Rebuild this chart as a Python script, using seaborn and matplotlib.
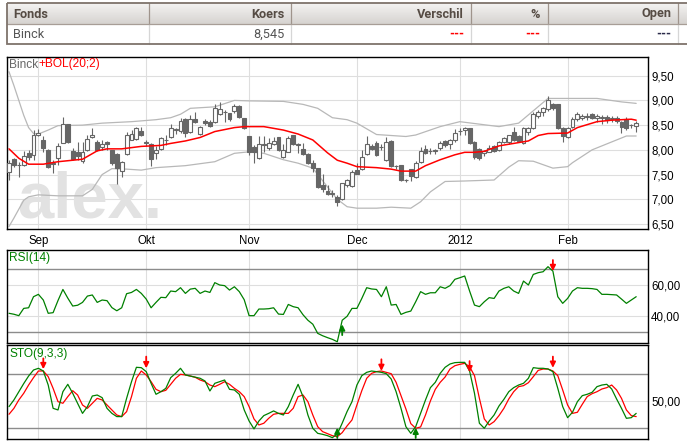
import numpy as np
import matplotlib
matplotlib.use("Agg")
import matplotlib.pyplot as plt
import seaborn as sns
from matplotlib.patches import Rectangle
from matplotlib.colors import LinearSegmentedColormap

# ---------------- data ----------------
month_labels = ['Sep', 'Okt', 'Nov', 'Dec', '2012', 'Feb']
month_pos = [6, 28, 49, 71, 92, 114]          # trading-day index of first session of month
price_ticks = [6.5, 7.0, 7.5, 8.0, 8.5, 9.0, 9.5]
price_tick_labels = ['6,50', '7,00', '7,50', '8,00', '8,50', '9,00', '9,50']

open_ = [7.55, 7.82, 7.69, 7.69, 7.93, 7.90, 8.30, 8.20, 8.00, 7.73,
         7.83, 8.13, 8.52, 7.98, 7.96, 7.78, 7.99, 8.25, 8.15, 8.05,
         8.15, 7.99, 7.91, 7.57, 7.91, 8.20, 8.22, 8.38, 8.14, 8.11,
         7.94, 8.02, 8.19, 8.25, 8.41, 8.38, 8.62, 8.37, 8.62, 8.33,
         8.58, 8.57, 8.56, 8.72, 8.76, 8.74, 8.79, 8.89, 8.65, 8.27,
         8.06, 7.83, 8.10, 8.04, 8.11, 8.26, 7.86, 7.96, 8.30, 8.10,
         8.02, 7.91, 7.73, 7.63, 7.29, 7.17, 7.12, 7.05, 7.00, 7.29,
         7.27, 7.60, 7.62, 7.91, 8.08, 8.14, 8.05, 7.79, 8.18, 7.67,
         7.69, 7.38, 7.61, 7.46, 7.76, 8.01, 7.98, 7.98, 8.03, 8.18,
         8.12, 8.19, 8.38, 8.40, 8.45, 8.16, 8.01, 7.93, 7.96, 8.08,
         7.99, 8.15, 8.15, 8.37, 8.27, 8.13, 8.37, 8.45, 8.69, 8.76,
         8.83, 8.92, 8.92, 8.44, 8.25, 8.47, 8.62, 8.64, 8.67, 8.72,
         8.64, 8.65, 8.67, 8.63, 8.64, 8.56, 8.62, 8.50, 8.49]
high = [7.79, 7.84, 7.75, 7.98, 7.99, 8.40, 8.43, 8.27, 8.01, 7.80,
        8.13, 8.67, 8.52, 8.04, 8.15, 8.16, 8.30, 8.44, 8.20, 8.20,
        8.17, 7.99, 7.93, 7.77, 8.37, 8.40, 8.47, 8.47, 8.20, 8.13,
        8.08, 8.25, 8.31, 8.52, 8.45, 8.65, 8.64, 8.71, 8.77, 8.49,
        8.62, 8.60, 8.92, 8.975, 8.81, 8.74, 8.92, 8.91, 8.65, 8.27,
        8.10, 8.27, 8.27, 8.23, 8.25, 8.26, 8.11, 8.27, 8.31, 8.13,
        8.13, 7.93, 7.80, 7.64, 7.51, 7.29, 7.19, 7.09, 7.33, 7.42,
        7.59, 7.73, 7.99, 8.27, 8.12, 8.17, 8.12, 8.25, 8.19, 7.70,
        7.70, 7.41, 7.62, 7.78, 8.06, 8.10, 8.03, 8.02, 8.17, 8.20,
        8.21, 8.42, 8.44, 8.46, 8.45, 8.18, 8.03, 7.99, 8.10, 8.10,
        8.17, 8.26, 8.31, 8.46, 8.31, 8.47, 8.47, 8.76, 8.81, 8.87,
        9.08, 8.95, 8.93, 8.46, 8.47, 8.67, 8.76, 8.72, 8.74, 8.74,
        8.72, 8.70, 8.71, 8.68, 8.68, 8.58, 8.66, 8.52, 8.58]
low = [7.39, 7.66, 7.46, 7.68, 7.80, 7.80, 8.29, 7.96, 7.63, 7.53,
       7.69, 8.13, 8.13, 7.80, 7.80, 7.74, 7.98, 8.23, 7.98, 7.99,
       7.99, 7.69, 7.30, 7.46, 7.90, 8.19, 8.20, 8.27, 8.08, 7.68,
       7.82, 8.00, 8.10, 8.23, 8.33, 8.35, 8.25, 8.35, 8.54, 8.31,
       8.50, 8.47, 8.54, 8.71, 8.57, 8.58, 8.74, 8.64, 8.42, 7.90,
       7.73, 7.82, 7.96, 8.00, 8.10, 7.98, 7.83, 7.95, 8.10, 7.93,
       7.90, 7.71, 7.55, 7.22, 7.15, 7.09, 7.05, 6.86, 6.99, 7.25,
       7.24, 7.51, 7.60, 7.90, 7.99, 7.88, 8.00, 7.78, 7.66, 7.62,
       7.36, 7.34, 7.37, 7.44, 7.74, 7.92, 7.91, 7.92, 8.00, 8.05,
       8.02, 8.15, 8.30, 8.30, 8.12, 7.81, 7.79, 7.87, 7.96, 7.95,
       7.98, 8.13, 8.12, 8.18, 8.15, 8.12, 8.30, 8.42, 8.64, 8.68,
       8.78, 8.80, 8.43, 8.16, 8.23, 8.45, 8.58, 8.60, 8.60, 8.62,
       8.57, 8.52, 8.55, 8.56, 8.55, 8.35, 8.40, 8.45, 8.37]
close = [7.73, 7.69, 7.70, 7.88, 7.86, 8.30, 8.35, 8.03, 7.66, 7.72,
         8.08, 8.52, 8.15, 7.82, 7.88, 7.95, 8.21, 8.31, 7.99, 8.11,
         8.11, 7.73, 7.63, 7.76, 8.30, 8.33, 8.45, 8.30, 8.15, 7.82,
         7.99, 8.23, 8.20, 8.45, 8.42, 8.58, 8.35, 8.62, 8.57, 8.46,
         8.54, 8.49, 8.84, 8.83, 8.77, 8.62, 8.89, 8.67, 8.44, 7.96,
         7.96, 8.11, 8.11, 8.13, 8.18, 8.00, 8.00, 8.23, 8.11, 8.11,
         7.91, 7.73, 7.63, 7.24, 7.21, 7.10, 7.11, 6.95, 7.32, 7.39,
         7.56, 7.52, 7.85, 8.12, 8.01, 7.90, 8.06, 8.16, 7.67, 7.68,
         7.38, 7.39, 7.47, 7.74, 7.98, 7.93, 7.985, 7.99, 8.13, 8.10,
         8.19, 8.35, 8.39, 8.45, 8.14, 7.85, 7.83, 7.98, 8.04, 7.98,
         8.15, 8.23, 8.30, 8.20, 8.18, 8.45, 8.45, 8.72, 8.76, 8.84,
         9.01, 8.85, 8.44, 8.27, 8.45, 8.62, 8.72, 8.69, 8.68, 8.64,
         8.69, 8.66, 8.60, 8.64, 8.58, 8.47, 8.44, 8.51, 8.545]

# Bollinger (20;2) read at selected sessions
mid_day = [0, 2, 4, 7, 10, 15, 18, 20, 23, 27, 31, 33, 36, 39, 42, 46, 48, 52, 56, 59,
           62, 65, 67, 69, 71, 75, 78, 80, 83, 85, 88, 91, 93, 95, 97, 100, 103, 106,
           108, 110, 114, 116, 120, 123, 127, 128]
mid_val = [8.02, 7.83, 7.71, 7.71, 7.76, 7.81, 7.98, 8.02, 8.02, 8.07, 8.09, 8.13, 8.18,
           8.25, 8.37, 8.45, 8.47, 8.47, 8.40, 8.32, 8.20, 7.94, 7.79, 7.73, 7.66, 7.64,
           7.61, 7.57, 7.57, 7.68, 7.80, 7.90, 7.95, 7.95, 7.97, 8.08, 8.13, 8.18, 8.29,
           8.33, 8.34, 8.45, 8.57, 8.60, 8.62, 8.60]
up_day = [0, 1, 2, 3, 4, 5, 6, 8, 10, 15, 19, 25, 30, 33, 35, 37, 42, 46, 49, 56, 60,
          63, 66, 69, 71, 75, 81, 83, 88, 92, 96, 100, 104, 107, 110, 115, 120, 125, 128]
up_val = [9.58, 9.30, 9.00, 8.70, 8.45, 8.33, 8.32, 8.40, 8.49, 8.50, 8.54, 8.57, 8.61,
          8.65, 8.72, 8.84, 8.87, 9.00, 8.99, 8.98, 8.92, 8.84, 8.65, 8.61, 8.54, 8.31,
          8.27, 8.30, 8.47, 8.57, 8.52, 8.47, 8.54, 8.79, 9.04, 9.04, 9.04, 8.97, 8.94]
lo_day = [0, 1, 3, 4, 6, 10, 15, 17, 19, 21, 24, 27, 30, 36, 42, 46, 49, 52, 56, 59, 62,
          65, 67, 69, 71, 75, 78, 82, 84, 86, 89, 93, 99, 102, 104, 107, 111, 114, 115,
          119, 124, 126, 128]
lo_val = [6.45, 6.62, 6.98, 7.05, 7.09, 7.07, 7.07, 7.20, 7.50, 7.62, 7.61, 7.59, 7.64,
          7.68, 7.76, 7.93, 7.96, 7.93, 7.80, 7.73, 7.63, 7.25, 7.00, 6.85, 6.82, 6.82,
          6.84, 6.82, 6.95, 7.15, 7.36, 7.37, 7.39, 7.65, 7.78, 7.77, 7.63, 7.66, 7.74,
          8.00, 8.20, 8.28, 8.28]

rsi = [41.9, 41.3, 40.4, 45.0, 45.4, 52.4, 53.9, 50.3, 41.9, 42.3,
       50.0, 57.0, 51.5, 46.5, 47.0, 48.8, 52.8, 53.5, 48.8, 50.3,
       49.9, 45.5, 43.5, 45.4, 54.3, 55.1, 57.0, 54.5, 50.9, 45.4,
       48.8, 52.0, 51.8, 56.0, 55.6, 58.1, 54.5, 57.2, 57.7, 54.5,
       56.0, 55.1, 61.3, 59.8, 59.4, 56.6, 58.7, 55.6, 50.5, 40.4,
       40.4, 44.6, 44.6, 44.8, 45.4, 41.4, 41.2, 47.5, 46.1, 45.4,
       41.0, 37.5, 35.0, 29.2, 27.7, 26.5, 25.4, 23.9, 37.5, 40.0,
       45.0, 45.0, 51.3, 58.1, 57.3, 57.0, 52.4, 58.7, 47.1, 47.5,
       41.2, 42.5, 43.3, 49.2, 55.6, 53.9, 54.9, 54.9, 58.7, 57.7,
       59.4, 63.4, 64.4, 65.5, 56.0, 47.1, 46.1, 49.2, 51.8, 51.3,
       56.0, 57.7, 58.7, 56.0, 54.5, 62.3, 59.8, 66.5, 67.6, 68.2,
       71.4, 68.6, 52.4, 48.2, 51.3, 56.0, 58.1, 57.7, 57.7, 57.5,
       57.0, 53.9, 53.9, 53.7, 53.5, 50.9, 48.2, 50.3, 52.4]
rsi_levels = [30, 70]
rsi_grid = [40, 60]
rsi_tick_labels = ['40,00', '60,00']
rsi_buy_day, rsi_buy_from, rsi_buy_to = [68], [28.1], [34.9]
rsi_sell_day, rsi_sell_from, rsi_sell_to = [111], [75.6], [68.6]

sto_k = [43.4, 50.8, 60.0, 69.0, 77.4, 84.1, 86.0, 83.0, 67.4, 41.5,
         39.7, 60.0, 68.2, 58.2, 47.1, 35.9, 43.4, 55.2, 56.3, 53.4,
         41.5, 35.9, 32.3, 32.3, 52.6, 71.1, 87.1, 86.7, 82.3, 69.3,
         57.1, 60.0, 63.7, 75.6, 80.4, 86.0, 78.6, 77.4, 76.3, 74.9,
         71.9, 60.8, 69.3, 71.1, 73.0, 62.6, 61.9, 57.1, 39.7, 27.4,
         18.6, 27.4, 33.4, 35.9, 38.6, 35.9, 34.1, 43.4, 56.3, 68.2,
         54.5, 34.1, 19.3, 13.7, 12.6, 11.1, 8.9, 13.0, 25.0, 38.0,
         48.9, 67.4, 77.8, 81.5, 83.0, 82.3, 81.5, 80.0, 74.1, 60.0,
         41.5, 21.1, 13.7, 21.1, 35.9, 50.8, 64.5, 70.4, 80.4, 87.1,
         90.8, 92.3, 92.6, 92.6, 83.0, 58.2, 24.9, 19.3, 27.4, 34.1,
         44.1, 51.5, 60.0, 64.5, 67.4, 69.3, 74.9, 86.7, 86.0, 86.0,
         85.2, 82.3, 63.7, 43.4, 31.1, 37.1, 48.9, 55.6, 57.1, 59.3,
         65.6, 67.4, 68.2, 63.0, 51.9, 41.5, 30.4, 31.1, 35.9]
sto_d = [34.9, 41.5, 50.8, 58.2, 67.4, 75.6, 83.0, 83.0, 76.7, 63.7,
         48.9, 47.1, 54.5, 61.1, 56.3, 45.2, 41.5, 47.1, 52.6, 50.8,
         45.2, 39.7, 34.1, 32.3, 37.8, 54.5, 74.9, 83.0, 78.6, 71.1,
         62.6, 60.0, 61.5, 68.2, 74.9, 79.3, 78.6, 77.4, 76.0, 73.0,
         71.1, 67.4, 65.6, 68.2, 71.1, 68.2, 63.7, 60.0, 54.5, 43.4,
         29.7, 23.0, 24.9, 30.4, 34.9, 35.9, 35.9, 35.9, 41.5, 54.5,
         56.3, 48.9, 34.1, 21.1, 15.6, 13.4, 11.1, 10.0, 14.5, 22.0,
         28.6, 45.2, 61.1, 74.9, 80.4, 82.3, 83.0, 81.5, 80.0, 70.4,
         55.6, 40.8, 24.5, 19.3, 20.8, 34.1, 49.7, 62.6, 70.4, 76.3,
         85.2, 88.9, 90.4, 91.5, 87.8, 77.8, 52.6, 29.7, 23.0, 26.7,
         33.4, 41.5, 51.9, 60.0, 65.6, 66.7, 70.0, 76.7, 83.7, 85.2,
         85.2, 83.0, 77.8, 61.9, 45.2, 35.9, 37.1, 46.0, 54.5, 57.8,
         60.0, 63.0, 64.5, 67.4, 61.9, 52.6, 39.7, 33.4, 32.3]
sto_levels = [20, 80]
sto_grid = [50]
sto_tick_labels = ['50,00']
sto_sell_day = [7, 28, 76, 94, 111]
sto_sell_from = [97, 99, 96, 94, 99]
sto_sell_to = [85, 86, 83, 81.5, 86.5]
sto_buy_day = [67, 83]
sto_buy_from = [8.5, 8.5]
sto_buy_to = [20, 20]

table_header = ['Fonds', 'Koers', 'Verschil', '%', 'Open']
table_row = ['Binck', '8,545', '---', '---', '---']

# ---------------- style ----------------
sns.set_theme(style='white')
plt.rcParams['font.family'] = ['Liberation Sans', 'DejaVu Sans']

W, H = 687, 445
fig = plt.figure(figsize=(W / 100, H / 100), dpi=100)
fig.patch.set_facecolor('white')

GRID = '#dedede'
CAND = '#666666'
BAND = '#b8b8b8'
GREEN = '#008000'
RED = '#ff0000'
LEVEL = '#8c8c8c'

def px_axes(x0, y0, x1, y1, **kw):
    return fig.add_axes([x0 / W, 1 - y1 / H, (x1 - x0) / W, (y1 - y0) / H], **kw)

# ---------------- table ----------------
axt = fig.add_axes([0, 0, 1, 1], zorder=-5)
axt.set_xlim(0, W)
axt.set_ylim(H, 0)
axt.axis('off')
cmap = LinearSegmentedColormap.from_list('hdr', ['#f4f3f2', '#d6d3d0'])
axt.imshow(np.linspace(0, 1, 30)[:, None], extent=[6.6, 692, 24, 3.3], cmap=cmap,
           aspect='auto', zorder=1)
col_edges = [149.4, 291.3, 470.9, 547.5, 677.6]
for xe in col_edges:
    axt.plot([xe, xe], [3.3, 24], color='#9f948c', lw=0.9, zorder=2)
    axt.plot([xe, xe], [24, 44], color='#d6d6d6', lw=0.9, zorder=2)
axt.plot([6.6, 692], [24, 24], color='#a79d96', lw=0.9, zorder=2)
axt.add_patch(Rectangle((6.6, 3.3), 692 - 6.6, 40.7, fill=False, ec='#7e736b', lw=1.3, zorder=3))
tfont = ['Roboto', 'Liberation Sans', 'DejaVu Sans']
text_x = [13, 285, 464, 540, 671]
aligns = ['left', 'right', 'right', 'right', 'right']
row_colors = ['#555555', '#555555', RED, RED, '#2b2b4a']
for lab, val, tx, ha, rc in zip(table_header, table_row, text_x, aligns, row_colors):
    axt.text(tx, 14, lab, ha=ha, va='center', fontsize=9.2, fontweight='bold',
             color='#564c44', family=tfont, zorder=4)
    axt.text(tx, 34.5, val, ha=ha, va='center', fontsize=9.2, color=rc,
             family=tfont, zorder=4,
             fontweight='bold' if val == '---' else 'normal')

# ---------------- price panel ----------------
ax = px_axes(7, 57, 648, 229)
ax.set_xlim(-0.41, 130.41)
ax.set_ylim(6.399, 9.878)
ax.set_axisbelow(True)
for m in month_pos:
    ax.axvline(m, color=GRID, lw=0.8, zorder=0.5)
for p in price_ticks:
    ax.axhline(p, color=GRID, lw=0.8, zorder=0.5)

ax.text(17 / W, 1 - 218 / H, 'alex.', transform=fig.transFigure, fontsize=47,
        fontweight='bold', color='#e2e2e2', va='baseline', ha='left', zorder=0.7,
        family=['Liberation Sans', 'DejaVu Sans'])

sns.lineplot(x=up_day, y=up_val, ax=ax, color=BAND, lw=0.9, zorder=2)
sns.lineplot(x=lo_day, y=lo_val, ax=ax, color=BAND, lw=0.9, zorder=2)

day = np.arange(len(close))
o = np.array(open_); c = np.array(close)
ax.vlines(day, low, high, color=CAND, lw=0.8, zorder=3)
faces = np.where(c >= o, 'white', CAND)
ax.bar(day, np.maximum(np.abs(c - o), 0.006), bottom=np.minimum(o, c), width=0.78,
       color=faces, edgecolor=CAND, linewidth=0.8, zorder=4)

sns.lineplot(x=mid_day, y=mid_val, ax=ax, color=RED, lw=1.1, zorder=5)

ax.set_xticks(month_pos)
ax.set_xticklabels(month_labels)
ax.yaxis.tick_right()
ax.set_yticks(price_ticks)
ax.set_yticklabels(price_tick_labels)
ax.tick_params(axis='both', length=0, labelsize=8.3, colors='black')
ax.tick_params(axis='y', pad=2.3)
ax.tick_params(axis='x', pad=4)
ax.set_xlabel(''); ax.set_ylabel('')
for s in ax.spines.values():
    s.set_color('black'); s.set_linewidth(1.0)
t1 = ax.text(9 / W, 1 - 64.5 / H, 'Binck', transform=fig.transFigure, fontsize=8.6,
             color='#666666', va='center', ha='left', zorder=10)
ax.annotate('+BOL(20;2)', xy=(1, 0.5), xycoords=t1, fontsize=8.6, color=RED,
            va='center', ha='left', zorder=10)

# ---------------- RSI panel ----------------
ar = px_axes(7, 250, 648, 343)
ar.set_xlim(-0.41, 130.41)
ar.set_ylim(23.1, 81.96)
for m in month_pos:
    ar.axvline(m, color=GRID, lw=0.8, zorder=0.5)
for g in rsi_grid:
    ar.axhline(g, color=GRID, lw=0.8, zorder=0.5)
for lv in rsi_levels:
    ar.axhline(lv, color=LEVEL, lw=1.0, zorder=1)
sns.lineplot(x=day, y=rsi, ax=ar, color=GREEN, lw=0.9, zorder=3)
for d, f, t in zip(rsi_buy_day, rsi_buy_from, rsi_buy_to):
    ar.annotate('', xy=(d, t), xytext=(d, f), zorder=6,
                arrowprops=dict(arrowstyle='-|>', color=GREEN, lw=1.3, mutation_scale=8,
                                shrinkA=0, shrinkB=0))
for d, f, t in zip(rsi_sell_day, rsi_sell_from, rsi_sell_to):
    ar.annotate('', xy=(d, t), xytext=(d, f), zorder=6,
                arrowprops=dict(arrowstyle='-|>', color=RED, lw=1.3, mutation_scale=8,
                                shrinkA=0, shrinkB=0))
ar.yaxis.tick_right()
ar.set_yticks(rsi_grid)
ar.set_yticklabels(rsi_tick_labels)
ar.set_xticks([])
ar.tick_params(axis='both', length=0, labelsize=8.3, colors='black', pad=2.3)
ar.set_xlabel(''); ar.set_ylabel('')
for s in ar.spines.values():
    s.set_color('black'); s.set_linewidth(1.0)
ar.text(9 / W, 1 - 258 / H, 'RSI(14)', transform=fig.transFigure, fontsize=8.6,
        color=GREEN, va='center', ha='left', zorder=10)

# ---------------- STO panel ----------------
ak = px_axes(7, 345, 648, 439)
ak.set_xlim(-0.41, 130.41)
ak.set_ylim(7.4, 111.9)
for m in month_pos:
    ak.axvline(m, color=GRID, lw=0.8, zorder=0.5)
for g in sto_grid:
    ak.axhline(g, color=GRID, lw=0.8, zorder=0.5)
for lv in sto_levels:
    ak.axhline(lv, color=LEVEL, lw=1.0, zorder=1)
sns.lineplot(x=day, y=sto_d, ax=ak, color=RED, lw=0.9, zorder=3)
sns.lineplot(x=day, y=sto_k, ax=ak, color=GREEN, lw=0.9, zorder=4)
for d, f, t in zip(sto_sell_day, sto_sell_from, sto_sell_to):
    ak.annotate('', xy=(d, t), xytext=(d, f), zorder=6,
                arrowprops=dict(arrowstyle='-|>', color=RED, lw=1.3, mutation_scale=8,
                                shrinkA=0, shrinkB=0))
for d, f, t in zip(sto_buy_day, sto_buy_from, sto_buy_to):
    ak.annotate('', xy=(d, t), xytext=(d, f), zorder=6,
                arrowprops=dict(arrowstyle='-|>', color=GREEN, lw=1.3, mutation_scale=8,
                                shrinkA=0, shrinkB=0))
ak.yaxis.tick_right()
ak.set_yticks(sto_grid)
ak.set_yticklabels(sto_tick_labels)
ak.set_xticks([])
ak.tick_params(axis='both', length=0, labelsize=8.3, colors='black', pad=2.3)
ak.set_xlabel(''); ak.set_ylabel('')
for s in ak.spines.values():
    s.set_color('black'); s.set_linewidth(1.0)
ak.text(9 / W, 1 - 354 / H, 'STO(9,3,3)', transform=fig.transFigure, fontsize=8.6,
        color=GREEN, va='center', ha='left', zorder=10)

fig.savefig('out.png', dpi=100)
